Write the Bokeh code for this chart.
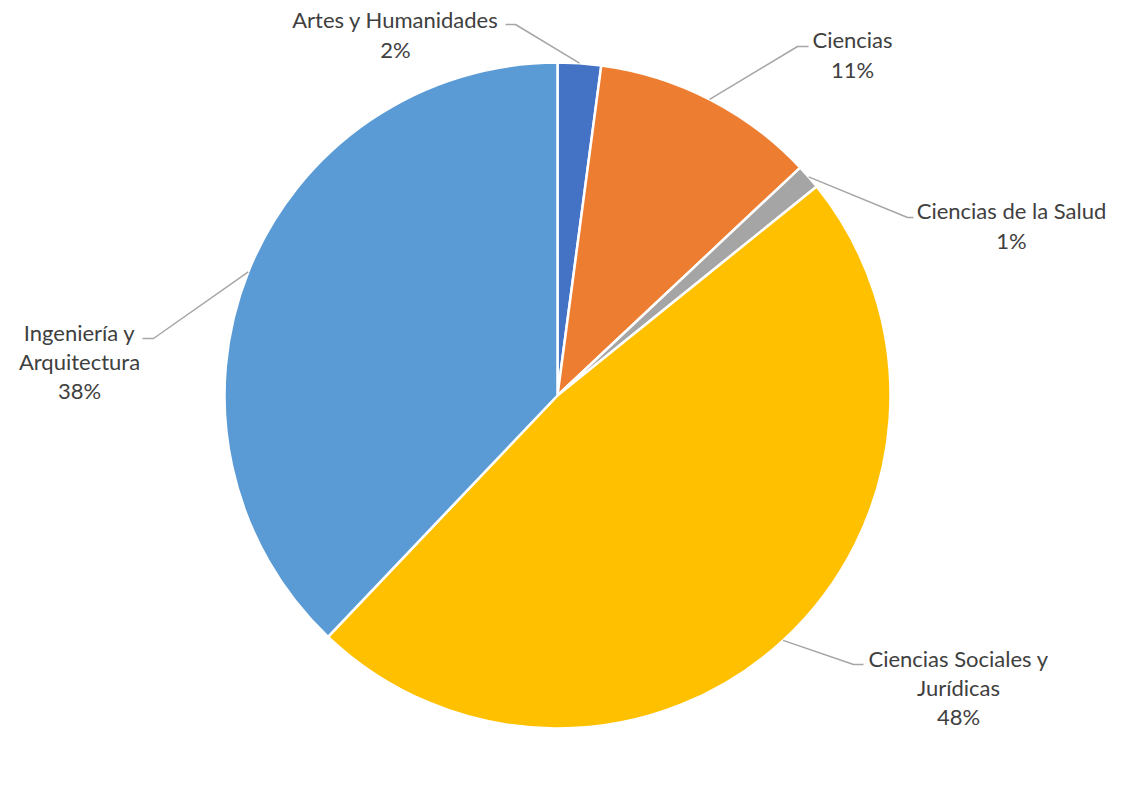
import math
import textwrap
from bokeh.plotting import figure
from bokeh.models import Range1d, ColumnDataSource
from bokeh.core.properties import value
from bokeh.embed import file_html
from bokeh.resources import INLINE

# ---- data ----
categories = ["Artes y Humanidades", "Ciencias", "Ciencias de la Salud",
              "Ciencias Sociales y Jurídicas", "Ingeniería y Arquitectura"]
shares = [2.1, 10.9, 1.2, 47.9, 37.9]
colors = ["#4472C4", "#ED7D31", "#A5A5A5", "#FFC000", "#5B9BD5"]

# ---- layout (reference pixel space, y downward) ----
W, H = 1108, 793
CX, CY, R = 557, 395, 333
wrap_width = [30, 30, 30, 19, 12]
label_pos = [(395, 34), (852, 54), (1011, 225), (958, 687), (79, 361)]
elbow_pos = [(515, 24), (797, 46), (907, 217), (853, 664), (153, 338)]
end_pos = [(505, 24), (808, 46), (913, 217), (863, 664), (142, 338)]


def Y(yref):
    return 809 - yref


total = sum(shares)
starts, ends, mids = [], [], []
cum = 0.0
for v in shares:
    a0 = math.pi / 2 - 2 * math.pi * cum / total
    cum += v
    a1 = math.pi / 2 - 2 * math.pi * cum / total
    starts.append(a0)
    ends.append(a1)
    mids.append((a0 + a1) / 2)

p = figure(width=W, height=H, output_backend="svg", toolbar_location=None,
           x_range=Range1d(0, W), y_range=Range1d(809 - H, 809),
           min_border=0, outline_line_color=None)
p.axis.visible = False
p.grid.visible = False
p.background_fill_color = "white"
p.border_fill_color = "white"

src = ColumnDataSource(dict(start=starts, end=ends, color=colors,
                            x=[CX] * len(shares), y=[Y(CY)] * len(shares)))
p.wedge(x="x", y="y", radius=R, start_angle="start", end_angle="end",
        direction="clock", fill_color="color", line_color="white",
        line_width=2.5, source=src)

xs, ys = [], []
for i, m in enumerate(mids):
    px = CX + R * math.cos(m)
    py = Y(CY) + R * math.sin(m)
    xs.append([px, elbow_pos[i][0], end_pos[i][0]])
    ys.append([py, Y(elbow_pos[i][1]), Y(end_pos[i][1])])
p.multi_line(xs=xs, ys=ys, line_color="#A6A6A6", line_width=1.5)

texts = [textwrap.fill(c, wrap_width[i]) + "\n" + f"{round(v)}%"
         for i, (c, v) in enumerate(zip(categories, shares))]
p.text(x=[lp[0] for lp in label_pos], y=[Y(lp[1]) for lp in label_pos],
       text=texts, text_align="center", text_baseline="middle",
       text_font=value("Lato"), text_font_size="22px", text_color="#404040",
       text_line_height=1.08)

open("out.html", "w").write(file_html(p, INLINE))
